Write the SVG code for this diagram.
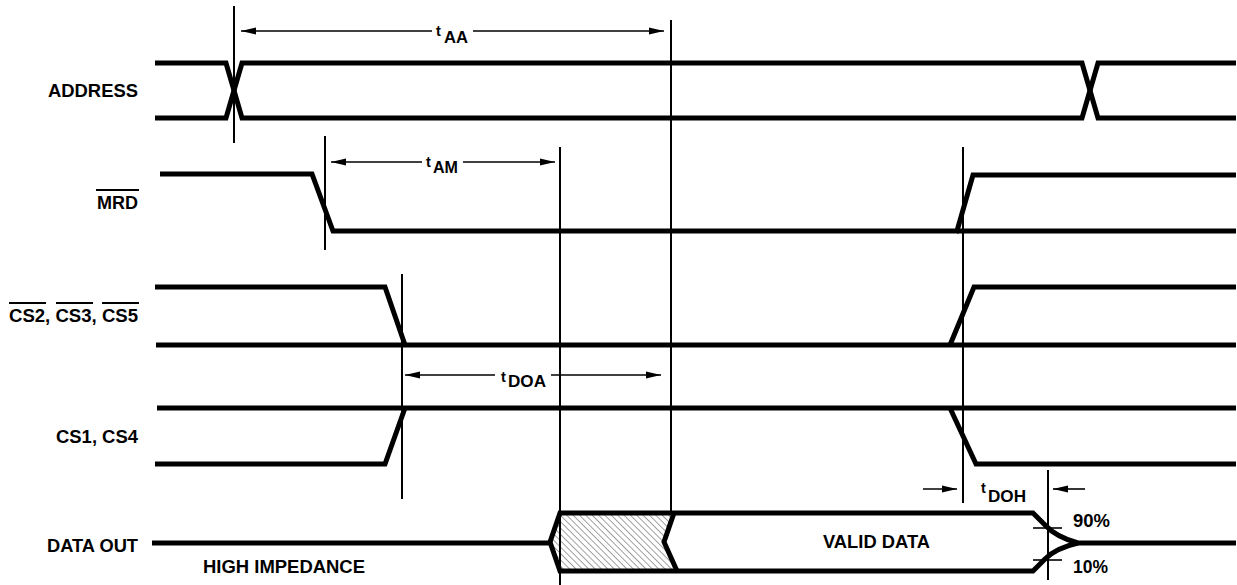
<svg xmlns="http://www.w3.org/2000/svg" width="1237" height="585" viewBox="0 0 1237 585">
<style>
.bus{fill:none;stroke:#000;stroke-width:5;stroke-linejoin:miter;stroke-linecap:butt}
.ref{fill:none;stroke:#000;stroke-width:2}
.dim{fill:none;stroke:#000;stroke-width:1.6}
.lbl{font-family:"Liberation Sans",Arial,sans-serif;font-weight:bold;font-size:17.5px;fill:#000}
.t{font-family:"Liberation Sans",Arial,sans-serif;font-weight:bold;font-size:14.5px;fill:#000}
.sub{font-family:"Liberation Sans",Arial,sans-serif;font-weight:bold;font-size:16px;fill:#000}
.ov{stroke:#000;stroke-width:1.8}
</style>
<defs>
<marker id="ah" markerUnits="userSpaceOnUse" markerWidth="16" markerHeight="8" refX="15" refY="4" orient="auto-start-reverse">
<path d="M0,0.5 L15,4 L0,7.5 z" fill="#000"/>
</marker>
<pattern id="hatch" patternUnits="userSpaceOnUse" width="4.5" height="4.5" patternTransform="rotate(-45)">
<rect width="4.5" height="4.5" fill="#fff"/>
<line x1="0" y1="0" x2="0" y2="4.5" stroke="#444" stroke-width="1"/>
</pattern>
</defs>
<rect width="1237" height="585" fill="#fff"/>

<g id="address">
<text class="lbl" x="48" y="97" textLength="90" lengthAdjust="spacingAndGlyphs">ADDRESS</text>
<path class="bus" d="M155,63 H226 L242,118 H1082 L1098,63 H1236"/>
<path class="bus" d="M155,118 H226 L242,63 H1082 L1098,118 H1236"/>
</g>

<g id="mrd">
<text class="lbl" x="97" y="209" textLength="41" lengthAdjust="spacingAndGlyphs">MRD</text>
<line class="ov" x1="96" y1="190" x2="139" y2="190"/>
<path class="bus" d="M160,174 H312 L333,231 H957 L973,175 H1236"/>
<path class="bus" d="M957,231 H1236"/>
</g>

<g id="cs235">
<text class="lbl" x="9" y="322" textLength="129" lengthAdjust="spacingAndGlyphs">CS2, CS3, CS5</text>
<line class="ov" x1="9" y1="303" x2="46" y2="303"/>
<line class="ov" x1="56" y1="303" x2="93" y2="303"/>
<line class="ov" x1="102" y1="303" x2="139" y2="303"/>
<path class="bus" d="M155,287 H385 L405,345"/>
<path class="bus" d="M156,345 H1236"/>
<path class="bus" d="M950,345 L974,287 H1236"/>
</g>

<g id="cs14">
<text class="lbl" x="56" y="443" textLength="82" lengthAdjust="spacingAndGlyphs">CS1, CS4</text>
<path class="bus" d="M155,464 H385 L405,408"/>
<path class="bus" d="M157,408 H1236"/>
<path class="bus" d="M950,408 L976,464 H1236"/>
</g>

<g id="dataout">
<text class="lbl" x="47" y="552" textLength="91" lengthAdjust="spacingAndGlyphs">DATA OUT</text>
<text class="lbl" x="203" y="573" textLength="162" lengthAdjust="spacingAndGlyphs">HIGH IMPEDANCE</text>
<path class="bus" d="M152,543 H550"/>
<path d="M550,542 L560,513 H674 L664,542 L677,571 H560 Z" fill="url(#hatch)" stroke="none"/>
<path class="bus" d="M550,542 L560,513 H1033 L1045,525 Q1056,537 1078,543 H1236"/>
<path class="bus" d="M550,542 L560,571 H1033 L1045,559 Q1056,548 1078,543"/>
<path class="bus" d="M674,513 L664,542 L677,571"/>
<text class="lbl" x="823" y="548" textLength="107" lengthAdjust="spacingAndGlyphs">VALID DATA</text>
<text class="lbl" x="1073" y="527" textLength="37" lengthAdjust="spacingAndGlyphs">90%</text>
<text class="lbl" x="1073" y="573" textLength="35" lengthAdjust="spacingAndGlyphs">10%</text>
<line class="dim" x1="1033" y1="528" x2="1062" y2="528"/>
<line class="dim" x1="1033" y1="560" x2="1062" y2="560"/>
</g>

<g id="connectors">
<line class="ref" x1="234" y1="6" x2="234" y2="143"/>
<line class="ref" x1="325" y1="136" x2="325" y2="250"/>
<line class="ref" x1="402" y1="274" x2="402" y2="499"/>
<line class="ref" x1="560" y1="147" x2="560" y2="585"/>
<line class="ref" x1="671" y1="20" x2="671" y2="512"/>
<line class="ref" x1="963" y1="147" x2="963" y2="503"/>
<line class="ref" x1="1048" y1="470" x2="1048" y2="580"/>

<line class="dim" x1="432" y1="31" x2="241" y2="31" marker-end="url(#ah)"/>
<line class="dim" x1="473" y1="31" x2="664" y2="31" marker-end="url(#ah)"/>
<text class="t" x="436" y="36">t</text><text class="sub" x="444" y="43" textLength="24" lengthAdjust="spacingAndGlyphs">AA</text>

<line class="dim" x1="422" y1="162" x2="331" y2="162" marker-end="url(#ah)"/>
<line class="dim" x1="463" y1="162" x2="555" y2="162" marker-end="url(#ah)"/>
<text class="t" x="426" y="167">t</text><text class="sub" x="433" y="173" textLength="25" lengthAdjust="spacingAndGlyphs">AM</text>

<line class="dim" x1="495" y1="375" x2="405" y2="375" marker-end="url(#ah)"/>
<line class="dim" x1="551" y1="375" x2="661" y2="375" marker-end="url(#ah)"/>
<text class="t" x="501" y="382">t</text><text class="sub" x="508" y="387" textLength="38" lengthAdjust="spacingAndGlyphs">DOA</text>

<line class="dim" x1="923" y1="489" x2="957" y2="489" marker-end="url(#ah)"/>
<line class="dim" x1="1085" y1="489" x2="1053" y2="489" marker-end="url(#ah)"/>
<text class="t" x="981" y="493">t</text><text class="sub" x="988" y="502" textLength="38" lengthAdjust="spacingAndGlyphs">DOH</text>
</g>
</svg>
